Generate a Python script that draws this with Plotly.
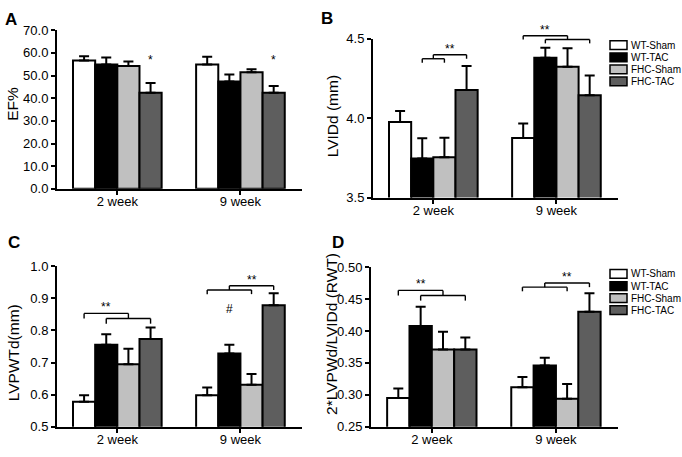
import plotly.graph_objects as go

W, H = 682, 457

groups = ["2 week", "9 week"]
series = ["WT-Sham", "WT-TAC", "FHC-Sham", "FHC-TAC"]
fill_colors = ["#ffffff", "#000000", "#c0c0c0", "#5e5e5e"]

# mean values per series (rows) for [2 week, 9 week]
ef_mean = [[56.6, 54.9], [54.9, 47.4], [54.2, 51.5], [42.4, 42.4]]
ef_sem = [[1.9, 3.4], [3.1, 3.0], [2.0, 1.3], [4.3, 3.0]]
lvidd_mean = [[3.977, 3.875], [3.746, 4.381], [3.754, 4.324], [4.178, 4.145]]
lvidd_sem = [[0.068, 0.092], [0.127, 0.064], [0.123, 0.117], [0.152, 0.125]]
lvpwtd_mean = [[0.578, 0.598], [0.755, 0.728], [0.695, 0.631], [0.773, 0.878]]
lvpwtd_sem = [[0.020, 0.024], [0.033, 0.027], [0.048, 0.033], [0.036, 0.038]]
rwt_mean = [[0.295, 0.312], [0.408, 0.346], [0.371, 0.294], [0.371, 0.430]]
rwt_sem = [[0.015, 0.016], [0.030, 0.012], [0.028, 0.023], [0.019, 0.029]]

ef_ticks = [0, 10, 20, 30, 40, 50, 60, 70]
lvidd_ticks = [3.5, 4.0, 4.5]
lvpwtd_ticks = [0.5, 0.6, 0.7, 0.8, 0.9, 1.0]
rwt_ticks = [0.25, 0.30, 0.35, 0.40, 0.45, 0.50]

# significance brackets: (group, lower_from, lower_to, upper_outer, y_low, y_up, label)
ef_brackets = []
lvidd_brackets = [(0, 1, 2, 3, 4.375, 4.400, "**"), (1, 1, 3, 0, 4.496, 4.520, "**")]
lvpwtd_brackets = [(0, 1, 3, 0, 0.837, 0.853, "**"), (1, 0, 2, 3, 0.926, 0.939, "**")]
rwt_brackets = [(0, 1, 3, 0, 0.4556, 0.4636, "**"), (1, 0, 2, 3, 0.4687, 0.4752, "**")]

# single marks: (group, series index, y, text)
ef_marks = [(0, 3, 57.0, "*"), (1, 3, 57.0, "*")]
lvpwtd_marks = [(1, 1, 0.868, "#")]

FONT = "Liberation Sans, Arial, Helvetica, sans-serif"
BARGAP = 0.28
BW = (1 - BARGAP) / 4
XR = [-0.49, 1.5]


def px(x):
    return x / W


def py(y):
    return 1 - y / H


panels = [
    dict(mean=ef_mean, sem=ef_sem, ticks=ef_ticks, fmt=".1f", rng=[0, 70],
         dom_x=[px(57), px(302)], dom_y=[py(188), py(24)],
         title="EF%", title_pos=(13, 100), letter="A", letter_pos=(10.5, 12.5),
         brackets=ef_brackets, marks=ef_marks),
    dict(mean=lvidd_mean, sem=lvidd_sem, ticks=lvidd_ticks, fmt=".1f", rng=[3.5, 4.5],
         dom_x=[px(373), px(618)], dom_y=[py(197), py(33)],
         title="LVIDd (mm)", title_pos=(332, 113), letter="B", letter_pos=(327, 12),
         brackets=lvidd_brackets, marks=[]),
    dict(mean=lvpwtd_mean, sem=lvpwtd_sem, ticks=lvpwtd_ticks, fmt=".1f", rng=[0.5, 1.0],
         dom_x=[px(57), px(302)], dom_y=[py(434), py(268)],
         title="LVPWTd(mm)", title_pos=(13, 358), letter="C", letter_pos=(14, 244),
         brackets=lvpwtd_brackets, marks=lvpwtd_marks),
    dict(mean=rwt_mean, sem=rwt_sem, ticks=rwt_ticks, fmt=".2f", rng=[0.25, 0.50],
         dom_x=[px(371), px(618)], dom_y=[py(434), py(269)],
         title="2*LVPWd/LVIDd (RWT)", title_pos=(332, 338), letter="D", letter_pos=(338, 244),
         brackets=rwt_brackets, marks=[]),
]

fig = go.Figure()
shapes = []
annotations = []
layout = {}


def bar_x(g, i):
    return g + (i - 1.5) * BW


for k, p in enumerate(panels):
    n = "" if k == 0 else str(k + 1)
    xa, ya = "x" + n, "y" + n
    for i, s in enumerate(series):
        fig.add_trace(go.Bar(
            x=groups, y=p["mean"][i], name=s, xaxis=xa, yaxis=ya,
            marker=dict(color=fill_colors[i], line=dict(color="black", width=2)),
            error_y=dict(type="data", symmetric=False, array=p["sem"][i],
                         arrayminus=[0] * len(groups), color="black",
                         thickness=2, width=5),
            showlegend=False, hoverinfo="skip",
        ))
    layout["xaxis" + n] = dict(
        domain=p["dom_x"], anchor=ya, range=XR, type="category",
        showline=True, linecolor="black", linewidth=2,
        ticks="outside", ticklen=4, tickwidth=2, tickcolor="black",
        ticklabelstandoff=-4,
        tickfont=dict(family=FONT, size=13, color="black"),
        showgrid=False, zeroline=False, fixedrange=True,
    )
    layout["yaxis" + n] = dict(
        domain=p["dom_y"], anchor=xa, range=p["rng"],
        tickmode="array", tickvals=p["ticks"], tickformat=p["fmt"],
        showline=True, linecolor="black", linewidth=2,
        ticks="outside", ticklen=4, tickwidth=2, tickcolor="black",
        tickfont=dict(family=FONT, size=13, color="black"),
        showgrid=False, zeroline=False, fixedrange=True,
    )
    r0, r1 = p["rng"]

    def dy(v, r0=r0, r1=r1):
        return (v - r0) / (r1 - r0)

    yref_dom = ya + " domain"

    def seg(x0, y0, x1, y1, xa=xa, yref_dom=yref_dom, dy=dy):
        shapes.append(dict(type="line", xref=xa, yref=yref_dom,
                           x0=x0, x1=x1, y0=dy(y0), y1=dy(y1),
                           line=dict(color="black", width=1.4)))

    for (g, a, b, outer, ylo, yup, label) in p["brackets"]:
        x_a, x_b = bar_x(g, a), bar_x(g, b)
        drop = yup - ylo
        seg(x_a, ylo, x_b, ylo)
        seg(x_a, ylo, x_a, ylo - drop)
        seg(x_b, ylo, x_b, ylo - drop)
        mid = (x_a + x_b) / 2
        xo = bar_x(g, outer)
        seg(min(mid, xo), yup, max(mid, xo), yup)
        seg(mid, yup, mid, ylo)
        seg(xo, yup, xo, yup - drop)
        annotations.append(dict(xref=xa, yref=yref_dom, x=(mid + xo) / 2, y=dy(yup),
                                yanchor="bottom", yshift=-3, text=label, showarrow=False,
                                font=dict(family=FONT, size=12, color="black")))
    for (g, i, yv, label) in p["marks"]:
        annotations.append(dict(xref=xa, yref=ya, x=bar_x(g, i), y=yv,
                                yanchor="middle", text=label, showarrow=False,
                                font=dict(family=FONT, size=12, color="black")))
    tx, ty = p["title_pos"]
    annotations.append(dict(xref="paper", yref="paper", x=px(tx), y=py(ty),
                            xanchor="center", yanchor="middle", textangle=-90,
                            text=p["title"], showarrow=False,
                            font=dict(family=FONT, size=15.5, color="black")))
    lx, ly = p["letter_pos"]
    annotations.append(dict(xref="paper", yref="paper", x=px(lx), y=py(ly),
                            xanchor="center", yanchor="middle",
                            text="<b>" + p["letter"] + "</b>", showarrow=False,
                            font=dict(family=FONT, size=17, color="black")))

# legends (panels B and D)
legend_rows = [[39.5, 52, 64.5, 77], [276, 288.5, 301, 313.5]]
for rows in legend_rows:
    for i, s in enumerate(series):
        yc = rows[i]
        shapes.append(dict(type="rect", xref="paper", yref="paper",
                           x0=px(610), x1=px(627), y0=py(yc + 4.5), y1=py(yc - 4.5),
                           fillcolor=fill_colors[i], line=dict(color="black", width=1.5)))
        annotations.append(dict(xref="paper", yref="paper", x=px(628.5), y=py(yc),
                                xanchor="left", yanchor="middle", text=s, showarrow=False,
                                font=dict(family=FONT, size=10, color="black")))

fig.update_layout(
    width=W, height=H, margin=dict(l=0, r=0, t=0, b=0),
    paper_bgcolor="white", plot_bgcolor="white",
    barmode="group", bargap=BARGAP, bargroupgap=0,
    shapes=shapes, annotations=annotations,
    font=dict(family=FONT, color="black"),
    **layout,
)

fig.write_html("out.html", config={"displayModeBar": False},
               post_script="document.body.style.margin='0';document.body.style.overflow='hidden';")
